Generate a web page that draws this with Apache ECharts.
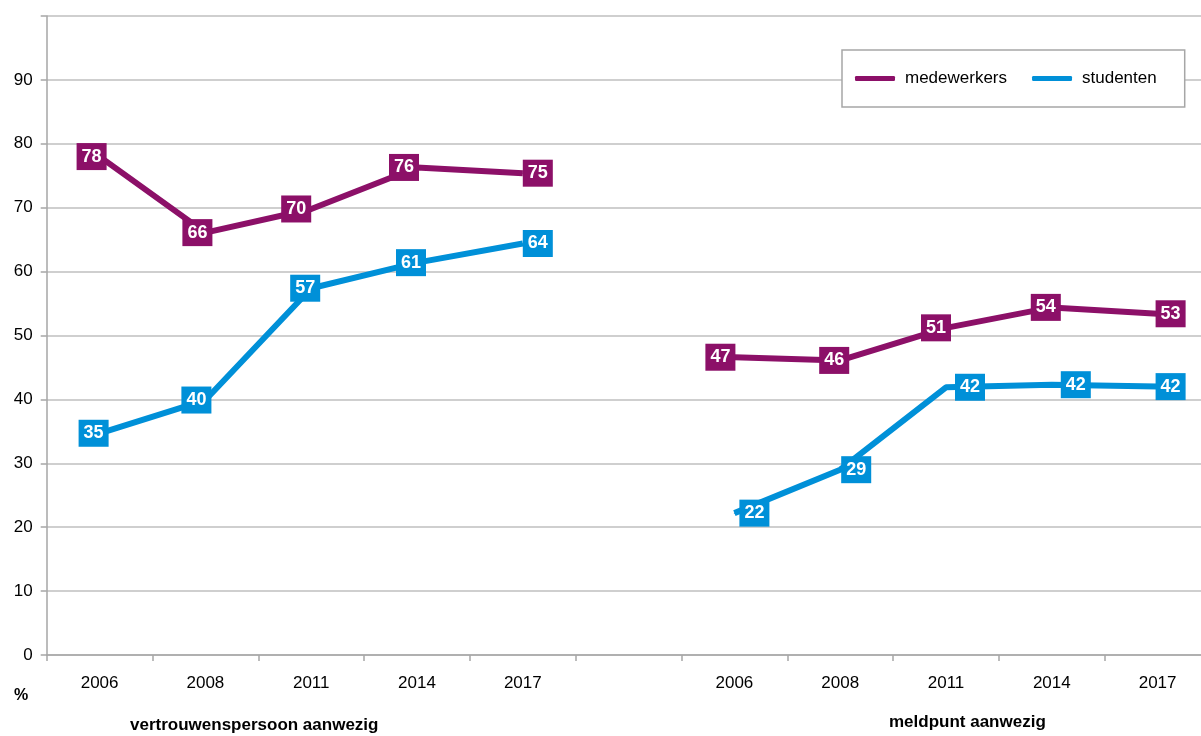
<!DOCTYPE html>
<html>
<head>
<meta charset="utf-8">
<script src="https://cdn.jsdelivr.net/npm/echarts@6/dist/echarts.min.js"></script>
<style>
html,body{margin:0;padding:0;background:#fff;overflow:hidden;}
#chart{width:1201px;height:736px;}
</style>
</head>
<body>
<div id="chart"></div>
<script>
// ---- data ----
const categories = ['2006','2008','2011','2014','2017','','2006','2008','2011','2014','2017'];
const medewerkers = [78.0, 66.1, 69.8, 76.3, 75.4, null, 46.6, 46.1, 51.2, 54.4, 53.4];
const studenten   = [34.7, 39.9, 57.4, 61.4, 64.4, null, 22.2, 29.0, 41.9, 42.3, 42.0];
const yTicks = [0,10,20,30,40,50,60,70,80,90,100];
const groupTitles = ['vertrouwenspersoon aanwezig', 'meldpunt aanwezig'];
const seriesNames = ['medewerkers', 'studenten'];

// label horizontal shifts (styling, not data)
const medShift = [-8, -8, -15, -13, 15, 0, -14, -6, -10, -6, 13];
const stuShift = [-6, -9, -6, -6, 15, 0, 20, 16, 24, 24, 13];

const PURPLE = '#8C1068';
const BLUE = '#0090D8';
const FONT = 'Liberation Sans, Arial, sans-serif';

function buildData(vals, shifts) {
  return vals.map((v, i) => v === null ? null : {
    value: v,
    label: { offset: [shifts[i], 0] }
  });
}

function lineSeries(name, vals, shifts, color) {
  return {
    name: name,
    type: 'line',
    data: buildData(vals, shifts),
    connectNulls: false,
    symbol: 'rect',
    symbolSize: 1,
    itemStyle: { color: color },
    lineStyle: { color: color, width: 6 },
    label: {
      show: true,
      position: 'inside',
      formatter: p => Math.round(p.value),
      color: '#fff',
      fontWeight: 'bold',
      fontFamily: FONT,
      fontSize: 18,
      lineHeight: 20,
      backgroundColor: color,
      padding: [4, 5, 3, 5]
    },
    emphasis: { disabled: true },
    z: 3
  };
}

const chart = echarts.init(document.getElementById('chart'), null, { renderer: 'canvas' });
chart.setOption({
  animation: false,
  backgroundColor: '#fff',
  grid: { left: 46.7, right: -9.5, top: 16, bottom: 81, containLabel: false, outerBoundsMode: 'none' },
  legend: {
    data: seriesNames.map(n => ({ name: n, icon: 'roundRect' })),
    left: 842,
    top: 50,
    orient: 'horizontal',
    itemWidth: 40,
    itemHeight: 5,
    itemGap: 25,
    padding: [20, 28, 20, 13],
    borderColor: '#A6A6A6',
    borderWidth: 1.5,
    backgroundColor: '#fff',
    textStyle: { fontFamily: FONT, fontSize: 17, color: '#000', padding: [0, 0, 0, 5] },
    z: 10
  },
  xAxis: {
    type: 'category',
    data: categories,
    boundaryGap: true,
    axisLine: { show: true, lineStyle: { color: '#A6A6A6', width: 1.5 } },
    axisTick: { show: true, length: 6, alignWithLabel: false, interval: 0, lineStyle: { color: '#A6A6A6', width: 1.5 } },
    axisLabel: { interval: 0, margin: 20, fontFamily: FONT, fontSize: 17, color: '#000' },
    splitLine: { show: false }
  },
  yAxis: {
    type: 'value',
    min: yTicks[0],
    max: yTicks[yTicks.length - 1],
    interval: yTicks[1] - yTicks[0],
    axisLine: { show: true, lineStyle: { color: '#A6A6A6', width: 1.5 } },
    axisTick: { show: true, length: 6, lineStyle: { color: '#A6A6A6', width: 1.5 } },
    axisLabel: { margin: 14, fontFamily: FONT, fontSize: 17, color: '#000',
      formatter: v => (v === yTicks[yTicks.length - 1] ? '' : String(v)) },
    splitLine: { show: true, lineStyle: { color: '#BFBFBF', width: 1.5 } }
  },
  graphic: [
    { type: 'text', left: 14, top: 688, style: { text: '%', font: 'bold 16px ' + FONT, fill: '#000' } },
    { type: 'text', left: 130, top: 717, style: { text: groupTitles[0], font: 'bold 17px ' + FONT, fill: '#000' } },
    { type: 'text', left: 889, top: 714, style: { text: groupTitles[1], font: 'bold 17px ' + FONT, fill: '#000' } }
  ],
  series: [
    lineSeries(seriesNames[0], medewerkers, medShift, PURPLE),
    lineSeries(seriesNames[1], studenten, stuShift, BLUE)
  ]
});
</script>
</body>
</html>
